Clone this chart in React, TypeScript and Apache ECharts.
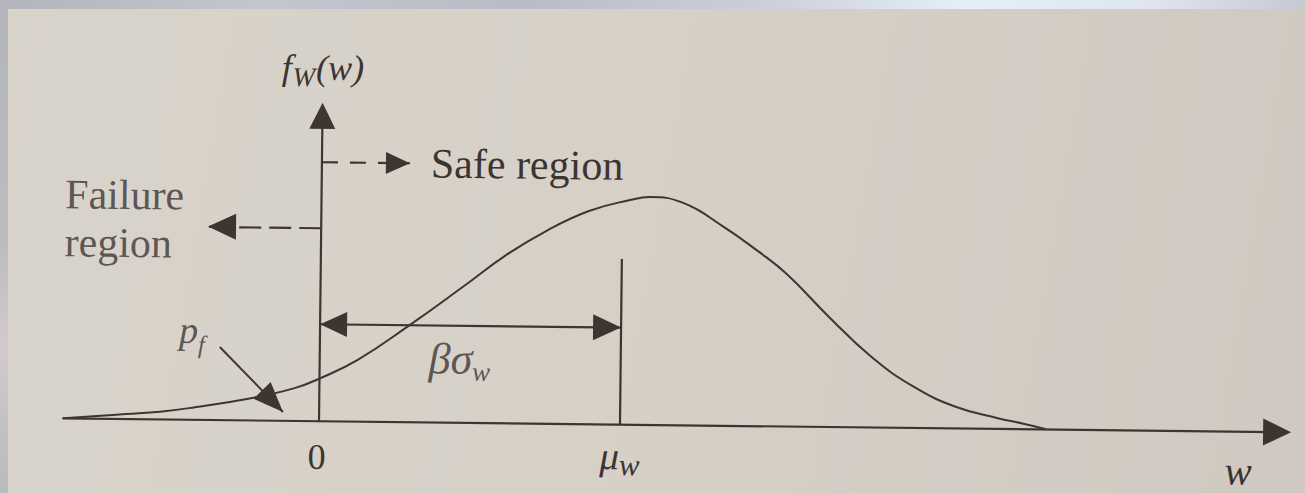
import React, { useEffect, useRef } from "react";
import * as echarts from "echarts";

// Ink and paper tones
const INK = "#3e3533";
const TEXT = "#3d3431";
const SERIF = "'Liberation Serif', 'DejaVu Serif', 'Times New Roman', serif";

// Axis extents (w along x, f_W(w) along y)
const W_MIN = -2.55;
const W_MAX = 9.55;
const F_MAX = 1.34;

// Mean of W; the distance from 0 to the mean is beta * sigma_W
const MU = 3;

// Sampled density f_W(w)
const curveW = [-2.55, -1.925, -1.586, -1.298, -0.666, -0.247, 0, 0.379, 0.896, 1.42, 1.835, 2.251, 2.667, 3.085, 3.274, 3.593, 4.015, 4.356, 4.648, 5.071, 5.5, 5.922, 6.343, 6.765, 7.0, 7.24];
const curveF = [0.0, 0.022, 0.034, 0.051, 0.099, 0.144, 0.187, 0.271, 0.427, 0.597, 0.735, 0.848, 0.936, 0.987, 1.0, 0.978, 0.872, 0.768, 0.668, 0.483, 0.309, 0.181, 0.095, 0.047, 0.026, 0.002];

// Annotation geometry in data units
const MU_LINE_TOP = 0.727;
const BETA_F = 0.426;
const SAFE_F = 1.136;
const SAFE_END = 0.877;
const FAIL_F = 0.849;
const FAIL_END = -1.128;
const PF_FROM = [-0.997, 0.321];
const PF_TO = [-0.36, 0.039];

// Label anchors in data units
const FAIL_LABEL = [-2.555, 0.878];
const PF_LABEL = [-1.276, 0.394];
const BETA_LABEL = [1.394, 0.28];

// Tick positions shown on the w axis
const TICKS = [0, MU];

const GRID = { left: 65.16, right: 25.85, top: 119.6, bottom: 68 };

function arrowEnd(coord: number[], w: number, h: number) {
  return { coord, symbol: "triangle", symbolSize: [w, h], symbolOffset: [0, h / 2] };
}

function buildOption() {
  const serifItalic = { fontFamily: SERIF, fontStyle: "italic" as const, color: TEXT };
  return {
    animation: false,
    backgroundColor: "transparent",
    grid: GRID,
    xAxis: {
      type: "value",
      min: W_MIN,
      max: W_MAX,
      axisLine: {
        onZero: true,
        symbol: ["none", "triangle"],
        symbolSize: [27, 28],
        lineStyle: { color: INK, width: 2.2 },
      },
      axisTick: { show: false },
      splitLine: { show: false },
      axisLabel: {
        customValues: TICKS,
        margin: 31.6,
        verticalAlign: "middle",
        align: "center",
        formatter: (v: number) => (v === 0 ? "{z|0}" : "{m|μ}{s|w}"),
        rich: {
          z: { fontFamily: SERIF, fontSize: 36, lineHeight: 38, color: TEXT, padding: [5, 4, 0, 0], verticalAlign: "top" },
          m: { ...serifItalic, fontSize: 39, lineHeight: 40, verticalAlign: "top" },
          s: { ...serifItalic, fontSize: 31, lineHeight: 31, padding: [13, 0, 0, 0], verticalAlign: "top" },
        },
      },
      name: "{w|w}",
      nameLocation: "end",
      nameGap: -38.6,
      nameTextStyle: {
        align: "center",
        verticalAlign: "middle",
        rich: {
          w: { ...serifItalic, fontSize: 41, lineHeight: 30, padding: [78, 0, 0, 0] },
        },
      },
    },
    yAxis: {
      type: "value",
      min: 0,
      max: F_MAX,
      axisLine: {
        onZero: true,
        symbol: ["none", "triangle"],
        symbolSize: [26, 26],
        lineStyle: { color: INK, width: 2.2 },
      },
      axisTick: { show: false },
      axisLabel: { show: false },
      splitLine: { show: false },
      name: "{f|f}{s|W}{f|(w)}",
      nameLocation: "end",
      nameGap: 47.1,
      nameTextStyle: {
        align: "center",
        verticalAlign: "middle",
        rich: {
          f: { ...serifItalic, fontSize: 36, lineHeight: 38, verticalAlign: "top" },
          s: { ...serifItalic, fontSize: 27, lineHeight: 27, padding: [14, 1, 0, 1], verticalAlign: "top" },
        },
      },
    },
    series: [
      {
        type: "line",
        name: "density",
        data: curveW.map((w, i) => [w, curveF[i]]),
        showSymbol: false,
        smooth: 0.45,
        silent: true,
        lineStyle: { color: INK, width: 2 },
        z: 3,
        markLine: {
          silent: true,
          animation: false,
          symbol: "none",
          label: { show: false },
          lineStyle: { color: INK, width: 2.2, type: "solid" },
          emphasis: { disabled: true },
          data: [
            // vertical line at the mean
            [
              { coord: [MU, 0], symbol: "none" },
              { coord: [MU, MU_LINE_TOP], symbol: "none" },
            ],
            // beta * sigma_W span
            [arrowEnd([0, BETA_F], 25, 27), arrowEnd([MU, BETA_F], 26, 28)],
            // safe region pointer
            [
              { coord: [0, SAFE_F], symbol: "none" },
              {
                ...arrowEnd([SAFE_END, SAFE_F], 22, 24),
                lineStyle: { color: INK, width: 2.2, type: [16, 12] },
                label: {
                  show: true,
                  position: "end",
                  distance: 21,
                  formatter: "Safe region",
                  fontFamily: SERIF,
                  fontSize: 42,
                  color: TEXT,
                },
              },
            ],
            // failure region pointer
            [
              { coord: [0, FAIL_F], symbol: "none" },
              {
                ...arrowEnd([FAIL_END, FAIL_F], 26, 28),
                lineStyle: { color: INK, width: 2.2, type: [22, 8] },
              },
            ],
            // probability of failure pointer
            [
              { coord: PF_FROM, symbol: "none" },
              { ...arrowEnd(PF_TO, 24, 30), lineStyle: { color: INK, width: 2, type: "solid" } },
            ],
          ],
        },
      },
      {
        type: "scatter",
        name: "labels",
        symbolSize: 0,
        silent: true,
        clip: false,
        z: 4,
        data: [
          {
            value: FAIL_LABEL,
            label: {
              show: true,
              position: "inside",
              align: "left",
              verticalAlign: "middle",
              formatter: "Failure\nregion",
              fontFamily: SERIF,
              fontSize: 42,
              lineHeight: 48,
              color: TEXT,
            },
          },
          {
            value: PF_LABEL,
            label: {
              show: true,
              position: "inside",
              align: "center",
              verticalAlign: "middle",
              formatter: "{p|p}{s|f}",
              rich: {
                p: { ...serifItalic, fontSize: 38, lineHeight: 38, verticalAlign: "top" },
                s: { ...serifItalic, fontSize: 25, lineHeight: 25, padding: [21, 0, 0, 0], verticalAlign: "top" },
              },
            },
          },
          {
            value: BETA_LABEL,
            label: {
              show: true,
              position: "inside",
              align: "center",
              verticalAlign: "middle",
              formatter: "{b|βσ}{s|w}",
              rich: {
                b: { ...serifItalic, fontSize: 44, lineHeight: 44, verticalAlign: "top" },
                s: { ...serifItalic, fontSize: 27, lineHeight: 27, padding: [21, 0, 0, 0], verticalAlign: "top" },
              },
            },
          },
        ],
      },
    ],
  };
}

export default function App() {
  const ref = useRef<HTMLDivElement>(null);

  useEffect(() => {
    if (!ref.current) return;
    const chart = echarts.init(ref.current, null, { renderer: "svg" });
    chart.setOption(buildOption() as any);
    return () => chart.dispose();
  }, []);

  return (
    <div
      style={{
        position: "fixed",
        left: 0,
        top: 0,
        width: 1305,
        height: 493,
        overflow: "hidden",
        background: "linear-gradient(100deg, #d9d4cb 0%, #d6d0c7 50%, #d0c9c1 100%)",
      }}
    >
      <div
        ref={ref}
        style={{
          position: "absolute",
          left: 0,
          top: 0,
          width: 1305,
          height: 493,
          transform: "rotate(0.65deg)",
          transformOrigin: "50% 50%",
        }}
      />
      <div
        style={{
          position: "absolute",
          left: 0,
          top: 0,
          width: 1305,
          height: 9,
          background:
            "linear-gradient(90deg, #b3b5bd 0%, #c4c6ce 20%, #b9bcc6 40%, #c9cfd9 58%, #e6eef8 74%, #dfe6f0 88%, #c5c9d2 100%)",
        }}
      />
      <div
        style={{
          position: "absolute",
          left: 0,
          top: 0,
          width: 8,
          height: 493,
          background:
            "linear-gradient(180deg, #b3b5ba 0%, #bcbdc1 50%, #d3c9cc 70%, #c3c3c7 85%, #b9babe 100%)",
        }}
      />
    </div>
  );
}
